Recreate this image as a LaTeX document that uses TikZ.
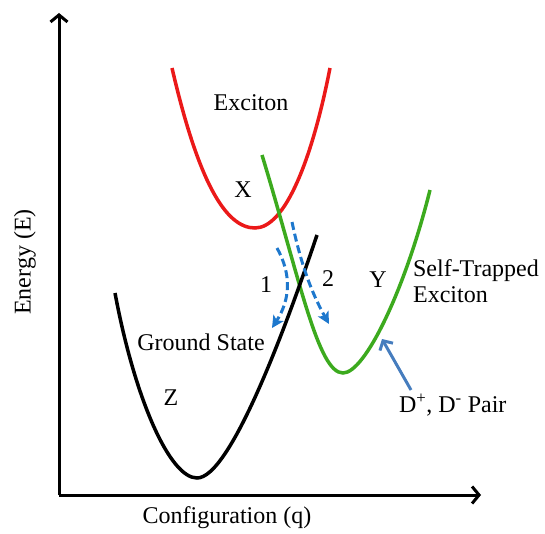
\documentclass[tikz,border=0pt]{standalone}
\usepackage{fontspec}
\setmainfont{Liberation Serif}
\usetikzlibrary{arrows.meta}

\definecolor{exred}{RGB}{235,25,25}
\definecolor{stegreen}{RGB}{60,170,30}
\definecolor{hopblue}{RGB}{30,120,205}
\definecolor{pairblue}{RGB}{70,125,190}

\begin{document}
\begin{tikzpicture}[x=1pt, y=-1pt, line width=3.5pt,
  lbl/.style={font=\fontsize{24}{26}\selectfont},
  axlbl/.style={font=\fontsize{24}{26}\selectfont},
  axis/.style={line width=3pt, -{Straight Barb[length=7pt,width=17pt]}},
  hop/.style={hopblue, line width=3pt, dash pattern=on 8pt off 4pt,
    -{Stealth[length=12pt,width=12pt,inset=3pt]}},
  pairarrow/.style={pairblue, line width=3pt, -{Straight Barb[length=7pt,width=15pt]}}]
\useasboundingbox (0,0) rectangle (545,534);

% axes
\coordinate (o) at (59,495);
\coordinate (ytip) at (59,13);
\coordinate (xtip) at (481,495);
\draw[axis] (o) -- (ytip);
\draw[axis] (o) -- (xtip);
\node[axlbl, rotate=90] (energy) at (25,262) {Energy (E)};
\node[axlbl] (config) at (227,518) {Configuration (q)};

% exciton
\coordinate (ex1) at (172,68);
\coordinate (exmin) at (255,228);
\coordinate (ex2) at (330,68);
\draw[exred] (ex1) .. controls (198,180) and (225,228) .. (exmin)
  .. controls (285,228) and (312,160) .. (ex2);

% self-trapped exciton
\coordinate (st1) at (262,155);
\coordinate (stmin) at (343,373);
\coordinate (st2) at (430,190);
\draw[stegreen] (st1) .. controls (300,280) and (318,373) .. (stmin)
  .. controls (365,373) and (405,290) .. (st2);

% ground state
\coordinate (gs1) at (115,293);
\coordinate (gsmin) at (197,478);
\coordinate (gs2) at (317,235);
\draw (gs1) .. controls (135,400) and (170,478) .. (gsmin)
  .. controls (230,478) and (285,330) .. (gs2);

% hopping paths
\coordinate (h1a) at (277,248);
\coordinate (h1b) at (272,328);
\coordinate (h2a) at (292,222);
\coordinate (h2b) at (329,324);
\draw[hop] (h1a) .. controls (292,275) and (290,300) .. (h1b);
\draw[hop] (h2a) .. controls (300,260) and (310,290) .. (h2b);

% labels
\node[lbl] (exlbl) at (251,103) {Exciton};
\node[lbl] (x) at (243,190) {X};
\node[lbl] (one) at (266,285) {1};
\node[lbl] (two) at (328,279) {2};
\node[lbl] (y) at (378,280) {Y};
\node[lbl, align=left, anchor=west] (stlbl) at (408,281) {Self-Trapped\\Exciton};
\node[lbl] (gslbl) at (201,342) {Ground State};
\node[lbl] (z) at (171,398) {Z};
\node[lbl, anchor=west] (dpair) at (394,405) {D\textsuperscript{+}, D\textsuperscript{-} Pair};

\coordinate (dtail) at (411,390);
\coordinate (dtip) at (382,339);
\draw[pairarrow] (dtail) -- (dtip);

\end{tikzpicture}
\end{document}
